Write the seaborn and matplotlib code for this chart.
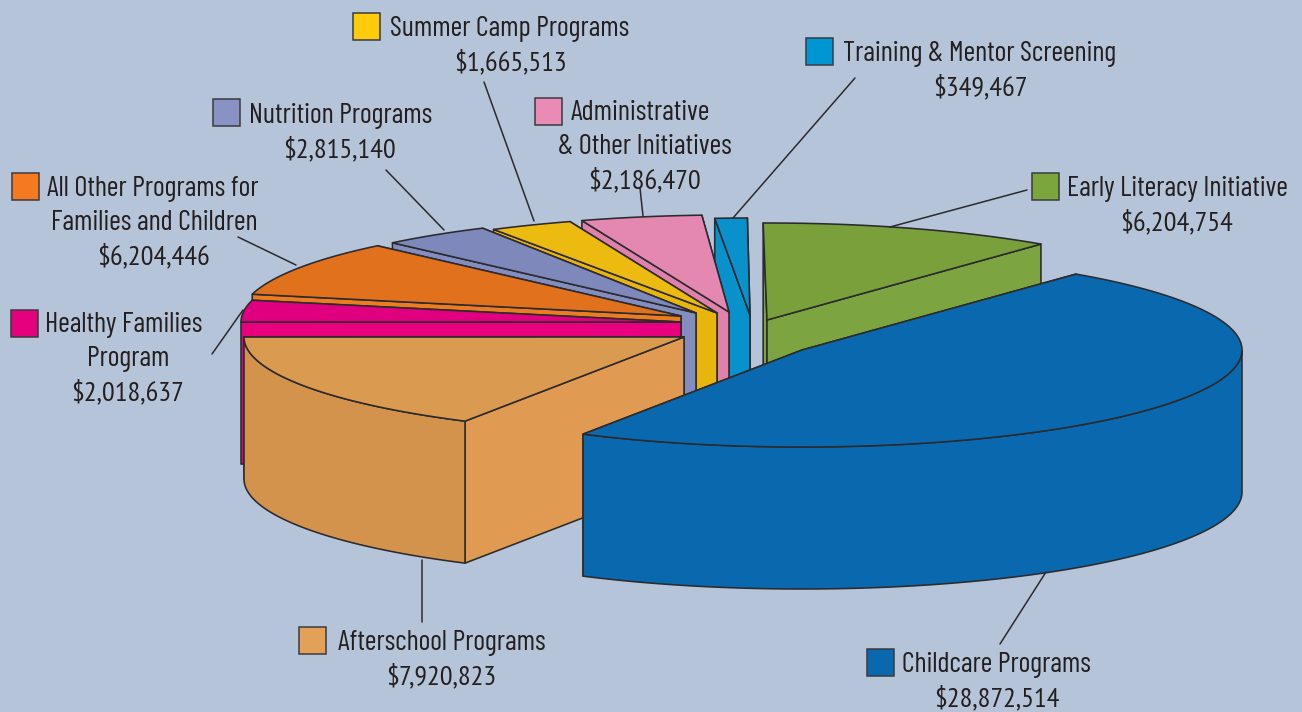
# 3D exploded pie of program spending
import numpy as np
import seaborn as sns
import matplotlib.pyplot as plt
from matplotlib.patches import Polygon, Rectangle

# Data, clockwise from the top of the pie
programs = ['Early Literacy Initiative', 'Childcare Programs', 'Afterschool Programs',
            'Healthy Families Program', 'All Other Programs', 'Nutrition Programs',
            'Summer Camp Programs', 'Administrative', 'Training & Mentor Screening']
budgets = [6204754, 28872514, 7920823, 2018637, 6204446, 2815140, 1665513, 2186470, 349467]

# Colors: legend key, top of slice, cut face, outer face
key_colors = ['#7BA63E', '#0A69AE', '#E3A158', '#E6007E', '#F47920', '#8892C4', '#FDCB0A', '#E98BB5', '#0095D3']
top_colors = ['#7AA03C', '#0A69AE', '#DA9A50', '#E0007F', '#E2711D', '#7F88BA', '#EDBA10', '#E488B0', '#0891CB']
cut_colors = ['#7CA542', '#0A69AE', '#E09A52', '#E8007F', '#EB7D20', '#848DBF', '#E8B50C', '#DE82AC', '#0891CB']
outer_colors = ['#7CA542', '#0A69AE', '#D3934D', '#E0007F', '#EB7D20', '#848DBF', '#E8B50C', '#DE82AC', '#0891CB']

# Pie geometry, in pixels
center_x, center_y = 700, 320
radius_x, radius_y = 440, 97
depth = 142
start_angle = 90.5
explode_x = [67, 102, -16, -19, -19, -4, 17, 29, 50]
explode_y = [0, 30, 17, 2, -4, -7, -7, -8, -5]
# The perspective of the drawing stretches some slices
warp = [1.017, 0.960, 1.228, 1.042, 0.871, 0.839, 0.922, 1.183, 1.48]
lean = [0, 0, 0, 0, 0, 0, 1.5, 0, 1.06]
# Back slices are covered by the ones in front of them
draw_order = [0, 8, 7, 6, 5, 4, 3, 2, 1]

line_color = '#2B2A2E'
line_width = 1.15

sns.set_theme(style='white', rc={'figure.facecolor': '#B5C4D8', 'axes.facecolor': '#B5C4D8'})
plt.rcParams['font.family'] = ['Barlow Condensed', 'Liberation Sans', 'DejaVu Sans']

fig = plt.figure(figsize=(13.02, 7.12), dpi=100)
ax = fig.add_axes([0, 0, 1, 1])
ax.set_xlim(0, 1302)
ax.set_ylim(712, 0)
ax.axis('off')

# Angles of each slice from the budgets
sweeps = np.array(budgets) / np.sum(budgets) * 360 * np.array(warp)
ends = start_angle - np.cumsum(sweeps)
starts = np.concatenate([[start_angle], ends[:-1]]) + np.array(lean)


def face(points, color, z):
    ax.add_patch(Polygon(points, closed=True, facecolor=color, edgecolor=line_color,
                         linewidth=line_width, joinstyle='round', zorder=z))


for z, i in enumerate(draw_order):
    apex = np.array([center_x + explode_x[i], center_y + explode_y[i]])
    t = np.radians(np.linspace(starts[i], ends[i], 120))
    arc = np.column_stack([apex[0] + radius_x * np.cos(t), apex[1] - radius_y * np.sin(t)])
    down = np.array([0, depth])

    # Cut faces first (the one further back goes under), then outer wall, then top
    for end in sorted([arc[0], arc[-1]], key=lambda p: p[1]):
        face([apex, end, end + down, apex + down], cut_colors[i], z)
    front = arc[np.sin(t) <= 0]
    if len(front) > 1:
        face(np.vstack([front, (front + down)[::-1]]), outer_colors[i], z)
    face(np.vstack([[apex], arc]), top_colors[i], z)

# Leader lines from the labels to the slices
leader_x = [(1027, 890), (1000, 1046), (422, 422), (212, 243), (238, 296), (386, 444), (484, 534), (640, 643), (855, 733)]
leader_y = [(190, 227), (644, 572), (560, 622), (354, 310), (237, 265), (170, 230), (82, 221), (188, 216), (78, 218)]
for lx, ly in zip(leader_x, leader_y):
    ax.plot(lx, ly, color=line_color, lw=1.1, zorder=20)

# Labels: first line sits beside the key, the others are centered under it
first_lines = ['Early Literacy Initiative', 'Childcare Programs', 'Afterschool Programs',
               'Healthy Families', 'All Other Programs for', 'Nutrition Programs',
               'Summer Camp Programs', 'Administrative', 'Training & Mentor Screening']
extra_lines = [None, None, None, 'Program', 'Families and Children', None, None, '& Other Initiatives', None]
key_x = [1032, 867, 299, 11, 12, 213, 353, 535, 806]
key_y = [173, 649, 627, 310, 173, 99, 13, 98, 38]
text_x = [1067, 902, 338, 45, 47, 249, 390, 571, 843]
text_y = [189, 665, 643, 325, 189, 116, 29, 113, 54]
middle_x = [1177, 997, 441, 128, 154, 340, 510, 645, 980]
font_size = 20.4
line_step = 33.5

for i in range(len(programs)):
    ax.add_patch(Rectangle((key_x[i], key_y[i]), 26.5, 26.5, facecolor=key_colors[i],
                           edgecolor='#3A3A40', linewidth=1.1, zorder=21))
    ax.text(text_x[i], text_y[i], first_lines[i], ha='left', va='center',
            fontsize=font_size, color='#231F20', zorder=22)
    y = text_y[i] + line_step
    if extra_lines[i]:
        ax.text(middle_x[i], y, extra_lines[i], ha='center', va='center',
                fontsize=font_size, color='#231F20', zorder=22)
        y += line_step
    # The amounts need wider figures than the label font has
    ax.text(middle_x[i], y, '${:,}'.format(budgets[i]), ha='center', va='center',
            fontsize=font_size, color='#231F20', zorder=22,
            family=['PT Sans Narrow', 'Barlow Condensed', 'Liberation Sans'])

plt.savefig('out.png', dpi=100, facecolor=fig.get_facecolor())
